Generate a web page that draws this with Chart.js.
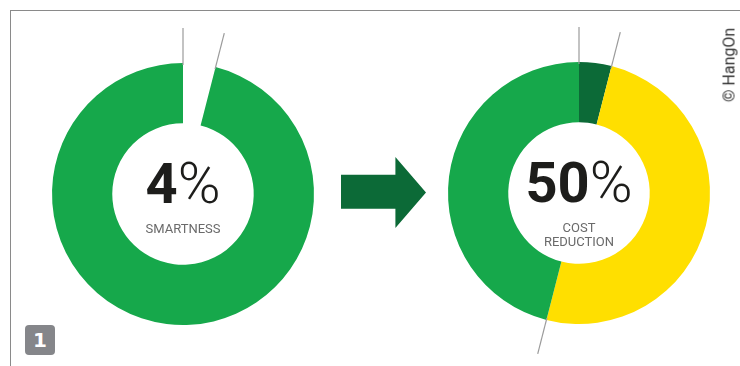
<!DOCTYPE html>
<html>
<head>
<meta charset="utf-8">
<script src="https://cdn.jsdelivr.net/npm/chart.js@4/dist/chart.umd.min.js"></script>
<style>
    html, body { margin: 0; padding: 0; background: #fff; }
    body { width: 740px; height: 366px; position: relative; overflow: hidden; font-family: Roboto, "DejaVu Sans", sans-serif; }
    .frame { position: absolute; left: 10px; top: 10px; width: 740px; height: 370px;
             border-top: 1.5px solid #8a8a8a; border-left: 1.5px solid #8a8a8a; }
    canvas { position: absolute; }
    #chartBefore { left: 13px; top: 24px; }
    #chartAfter  { left: 409px; top: 23px; }
    .arrow { position: absolute; left: 341px; top: 157px; width: 85px; height: 71px; background: #0c6a37;
             clip-path: polygon(0 25%, 64% 25%, 64% 0, 100% 50%, 64% 100%, 64% 73%, 0 73%); }
    .credit { position: absolute; left: 729px; top: 65px; transform: translate(-50%, -50%) rotate(-90deg);
              font: 16px Roboto, sans-serif; color: #333; white-space: nowrap; }
    .badge { position: absolute; left: 25px; top: 325px; width: 30px; height: 30px; border-radius: 4px;
             background: #85868a; color: #fff; font: bold 20px "DejaVu Sans", sans-serif;
             text-align: center; line-height: 30px; }
</style>
</head>
<body>
<div class="frame"></div>
<canvas id="chartBefore" width="340" height="340"></canvas>
<div class="arrow"></div>
<canvas id="chartAfter" width="340" height="340"></canvas>
<div class="credit">© HangOn</div>
<div class="badge">1</div>

<script>
// ─────────────────────────────────────────────
// Data
// ─────────────────────────────────────────────
const BEFORE_LABELS = ["Smartness", "Rest"];
const BEFORE_VALUES = [4, 96];

const AFTER_LABELS = ["Smartness", "Cost reduction", "Rest"];
const AFTER_VALUES = [4, 50, 46];

const GREEN      = "#16a84b";
const DARK_GREEN = "#0c6a37";
const YELLOW     = "#ffdf00";

// leader lines sticking out of the ring at the start of these slices
const leaderLines = {
    id: "leaderLines",
    afterDatasetsDraw(chart, args, opts) {
        const arcs = chart.getDatasetMeta(0).data;
        const ctx = chart.ctx;
        ctx.save();
        ctx.strokeStyle = opts.color;
        ctx.lineWidth = 1.2;
        (opts.edges || []).forEach(i => {
            const a = arcs[i];
            const ang = a.startAngle;
            const r0 = a.outerRadius - 2, r1 = a.outerRadius + opts.length;
            ctx.beginPath();
            ctx.moveTo(a.x + r0 * Math.cos(ang), a.y + r0 * Math.sin(ang));
            ctx.lineTo(a.x + r1 * Math.cos(ang), a.y + r1 * Math.sin(ang));
            ctx.stroke();
        });
        ctx.restore();
    }
};

// big percentage + caption in the hole
const centerText = {
    id: "centerText",
    afterDraw(chart, args, opts) {
        const a = chart.getDatasetMeta(0).data[0];
        const ctx = chart.ctx;
        ctx.save();
        ctx.textBaseline = "alphabetic";
        ctx.fillStyle = "#1d1d1b";
        const numFont = "bold 56px Roboto";
        const pctFont = "300 58px Roboto";
        ctx.font = numFont;
        const wNum = ctx.measureText(opts.value).width;
        ctx.font = pctFont;
        const wPct = ctx.measureText("%").width;
        let x = a.x - (wNum + wPct) / 2;
        const base = a.y + 9;
        ctx.font = numFont;
        ctx.textAlign = "left";
        ctx.fillText(opts.value, x, base);
        ctx.font = pctFont;
        ctx.fillText("%", x + wNum, base);

        ctx.fillStyle = "#6a6a6a";
        ctx.font = "13px Roboto";
        ctx.textAlign = "center";
        opts.caption.forEach((line, i) => ctx.fillText(line, a.x, base + 30 + i * 14));
        ctx.restore();
    }
};

function makeDonut(canvasId, labels, values, colors, edges, value, caption) {
    new Chart(document.getElementById(canvasId), {
        type: "doughnut",
        data: {
            labels,
            datasets: [{
                data: values,
                backgroundColor: colors,
                borderWidth: 0,
                radius: 131,
                cutout: "54%",
            }]
        },
        options: {
            responsive: false,
            animation: false,
            layout: { padding: 0 },
            plugins: {
                legend: { display: false },
                tooltip: { enabled: false },
                leaderLines: { edges, color: "#9b9b9b", length: 35 },
                centerText: { value, caption }
            }
        },
        plugins: [leaderLines, centerText]
    });
}

makeDonut("chartBefore", BEFORE_LABELS, BEFORE_VALUES, ["rgba(0,0,0,0)", GREEN], [0, 1], "4", ["SMARTNESS"]);
makeDonut("chartAfter", AFTER_LABELS, AFTER_VALUES, [DARK_GREEN, YELLOW, GREEN], [0, 1, 2], "50", ["COST", "REDUCTION"]);
</script>
</body>
</html>
